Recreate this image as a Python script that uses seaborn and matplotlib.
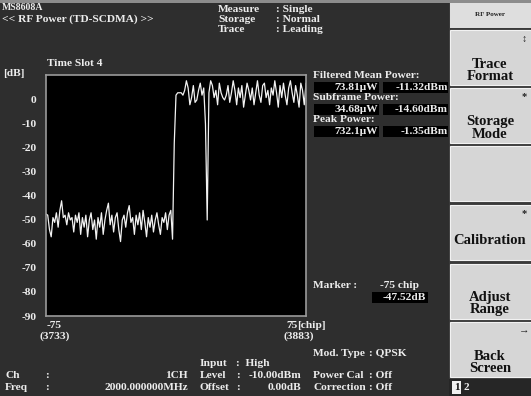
import numpy as np
import matplotlib
matplotlib.use("Agg")
import matplotlib.pyplot as plt
from matplotlib.patches import Rectangle
import seaborn as sns

# trace: level [dB] per chip
chips = np.arange(-75, 76)
level_before = [-47.5, -48, -54, -57, -49, -51, -47, -53, -46, -42,
                -49, -48, -52, -47, -50, -49, -55, -48, -51, -47,
                -56, -49, -53, -48, -57, -50, -47, -54, -50, -58,
                -49, -53, -47, -56, -50, -46, -43, -52, -48, -55,
                -49, -47, -54, -59, -50, -48, -53, -47, -44, -51,
                -49, -56, -48, -52, -47, -54, -46, -51, -57, -49,
                -53, -48, -55, -50, -47, -52, -56, -49, -51, -47,
                -54, -48, -46, -58, -18]
level_slot = [2, 3, 3, 3, 2, 4, 8, 5, -2, 1,
              6, -1, 0, 4, 7, 2, 5, -10, -50, 3,
              8, 6, 1, 4, -2, 7, 3, 1, 0, 2,
              6, -1, 3, 8, 4, -2, 5, 1, 6, -3,
              2, 7, 4, 0, 5, -2, 3, 8, 2, -1,
              6, 7, 1, 4, -2, 5, 2, 8, 3, -3,
              6, 1, 7, 2, -2, 5, 8, 3, -1, 6,
              2, -3, 7, 4, -2, 7]
level = level_before + level_slot

y_ticks = [0, -10, -20, -30, -40, -50, -60, -70, -80, -90]

results = [("73.81\u03bcW", "-11.32dBm"),
           ("34.68\u03bcW", "-14.60dBm"),
           ("732.1\u03bcW", "-1.35dBm")]
result_titles = ["Filtered Mean Power:", "Subframe Power:", "Peak Power:"]

W, H = 531, 396
BG = "#2e2e2e"
FG = "#ececec"
FONT = ["Liberation Serif", "DejaVu Serif"]
FS = 8.2

sns.set_theme(style="dark")
plt.rcParams["font.family"] = FONT

fig = plt.figure(figsize=(W / 100, H / 100), dpi=100)
fig.patch.set_facecolor(BG)


def put(x, y, s, ha="left", color=FG, size=FS, **kw):
    fig.text(x / W, 1 - y / H, s, ha=ha, va="center", color=color,
             fontsize=size, fontweight="bold", family=FONT, **kw)


def box(x, y, w, h, color, **kw):
    fig.patches.append(Rectangle((x / W, 1 - (y + h) / H), w / W, h / H,
                                 transform=fig.transFigure, facecolor=color,
                                 edgecolor=kw.pop("ec", "none"), **kw))


# top frame line
box(0, 0, W, 3, "#8c8c8c")

# trace window
ax = fig.add_axes([46 / W, 1 - 316 / H, 260 / W, 241 / H])
ax.set_facecolor("black")
sns.lineplot(x=chips, y=level, ax=ax, color="#f2f2f2", linewidth=0.9)
ax.set_xlim(-75, 75)
ax.set_ylim(-90, 10.4)
ax.set_yticks(y_ticks)
ax.set_yticklabels([str(t) for t in y_ticks])
ax.set_xticks([])
ax.tick_params(axis="y", length=0, pad=7, labelcolor=FG, labelsize=FS)
for lab in ax.get_yticklabels():
    lab.set_fontweight("bold")
ax.grid(False)
ax.set_xlabel("")
ax.set_ylabel("")
for sp in ax.spines.values():
    sp.set_color("#9a9a9a")
    sp.set_linewidth(1.2)

# header
put(2, 8, "MS8608A", size=7)
put(2, 19, "<< RF Power (TD-SCDMA) >>")
for i, (k, v) in enumerate([("Measure", "Single"), ("Storage", "Normal"),
                            ("Trace", "Leading")]):
    put(218, 9 + 10.5 * i, k)
    put(276, 9 + 10.5 * i, ": " + v)

put(47, 63, "Time Slot 4")
put(3, 74, "[dB]")

# x axis labels
put(47, 325, "-75")
put(40, 336, "(3733)")
put(298, 325, "75", ha="right")
put(297.5, 325, "[chip]")
put(283, 336, "(3883)")

# results
for i, (t, (uw, dbm)) in enumerate(zip(result_titles, results)):
    yt = 76 + 22 * i
    put(313, yt, t)
    box(314, yt + 5.5, 65, 11, "black")
    box(383, yt + 5.5, 65, 11, "black")
    put(378, yt + 11, uw, ha="right")
    put(448, yt + 11, dbm, ha="right")

# marker
put(313, 286, "Marker :")
put(380, 286, "-75 chip")
box(372, 292, 56, 11, "black")
put(426, 297.5, "-47.52dB", ha="right")

put(313, 353, "Mod. Type")
put(369, 353, ": QPSK")

# bottom status
put(200, 363, "Input")
put(236, 363, ":  High")
put(5, 375, "Ch")
put(45, 375, ":")
put(188, 375, "1CH", ha="right")
put(200, 375, "Level")
put(236, 375, ":")
put(301, 375, "-10.00dBm", ha="right")
put(313, 375, "Power Cal")
put(369, 375, ": Off")
put(5, 387, "Freq")
put(45, 387, ":")
put(188, 387, "2000.000000MHz", ha="right")
put(200, 387, "Offset")
put(236, 387, ":")
put(301, 387, "0.00dB", ha="right")
put(313, 387, "Correction")
put(369, 387, ": Off")

# soft key panel
box(449, 3, 82, 393, "#3a3a3a")
box(450, 3, 81, 25, "#dedede")
put(490, 15, "RF Power", ha="center", color="#222222", size=5)
keys = [(30, ["Trace", "Format"], "\u2195"),
        (88, ["Storage", "Mode"], "*"),
        (146, [], ""),
        (205, ["Calibration"], "*"),
        (264, ["Adjust", "Range"], ""),
        (322, ["Back", "Screen"], "\u2192")]
for top, lines, mark in keys:
    box(450, top, 81, 55, "#d6d6d6", ec="#f2f2f2", linewidth=0.8)
    if mark:
        put(524, top + 9, mark, ha="center", color="#222222", size=7.5)
    if len(lines) == 1:
        put(490, top + 36, lines[0], ha="center", color="#111111", size=10.5)
    for j, s in enumerate(lines if len(lines) > 1 else []):
        put(490, top + 34 + 12 * j, s, ha="center", color="#111111", size=10.5)

box(449, 379, 82, 17, "#262626")
box(452, 381, 9, 13, "#f0f0f0")
put(456.5, 387.5, "1", ha="center", color="#111111", size=8)
put(466, 387.5, "2", ha="center", color=FG, size=8)

fig.savefig("out.png", dpi=100, facecolor=fig.get_facecolor())
